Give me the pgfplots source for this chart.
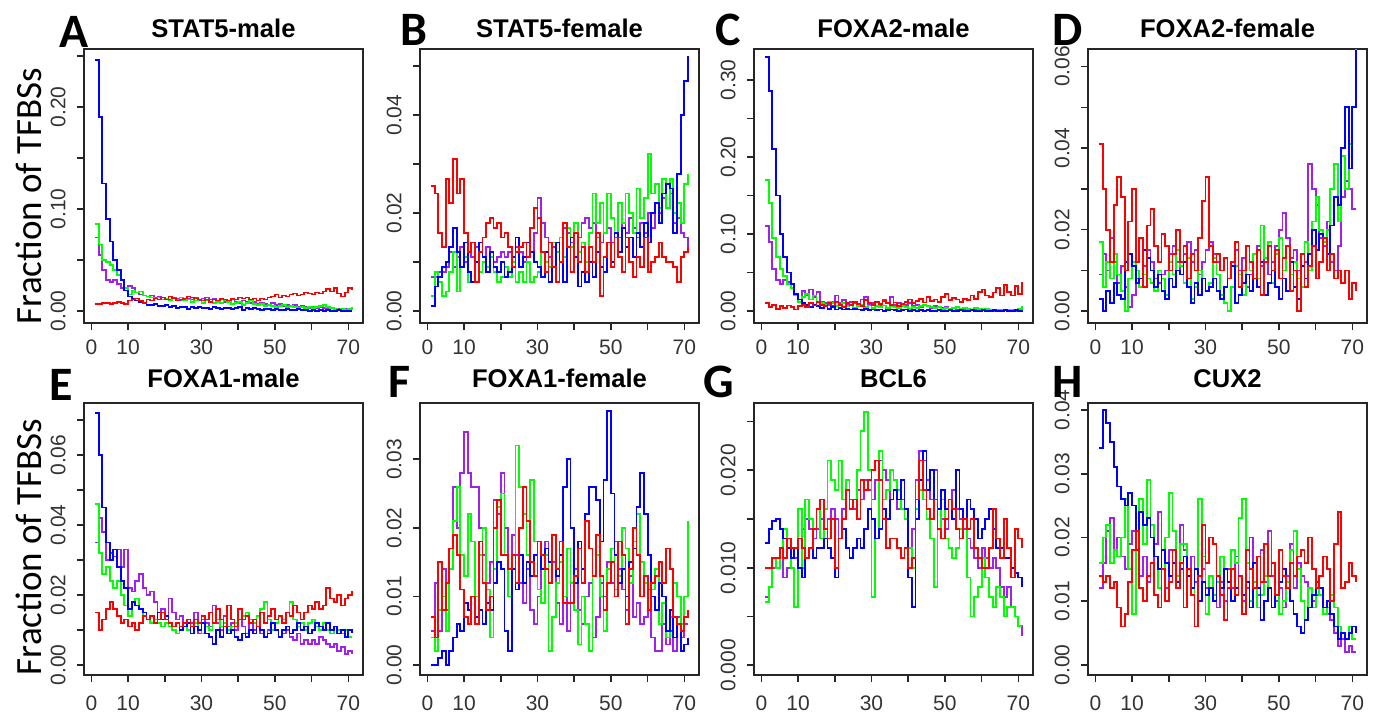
\documentclass[border=0pt]{standalone}
\usepackage{pgfplots}
\pgfplotsset{compat=1.18}
\usepackage{pgfplotstable}
\usepackage{fontspec}
\setmainfont{Liberation Sans}
\newfontfamily\calibri{Carlito}
\definecolor{rred}{RGB}{255,0,0}
\definecolor{rgreen}{RGB}{0,255,0}
\definecolor{rblue}{RGB}{0,0,255}
\definecolor{rpurple}{RGB}{160,32,240}

\pgfplotstableread{
x r g b p
1 0.007 0.085 0.246 0.072
2 0.007 0.065 0.190 0.055
3 0.008 0.050 0.125 0.040
4 0.008 0.048 0.090 0.030
5 0.007 0.045 0.068 0.028
6 0.008 0.040 0.050 0.030
7 0.009 0.035 0.040 0.026
8 0.008 0.030 0.030 0.022
9 0.007 0.022 0.020 0.020
10 0.010 0.016 0.014 0.024
11 0.011 0.020 0.012 0.022
12 0.012 0.018 0.010 0.018
13 0.010 0.019 0.009 0.016
14 0.008 0.015 0.008 0.015
15 0.011 0.014 0.006 0.014
16 0.010 0.013 0.006 0.015
17 0.012 0.012 0.007 0.013
18 0.011 0.013 0.005 0.014
19 0.013 0.011 0.005 0.013
20 0.011 0.012 0.006 0.012
21 0.014 0.010 0.004 0.011
22 0.012 0.012 0.005 0.013
23 0.010 0.011 0.003 0.012
24 0.011 0.013 0.004 0.010
25 0.012 0.010 0.004 0.011
26 0.014 0.011 0.002 0.012
27 0.013 0.009 0.004 0.011
28 0.012 0.010 0.003 0.013
29 0.011 0.011 0.004 0.010
30 0.010 0.008 0.003 0.012
31 0.011 0.010 0.003 0.013
32 0.009 0.009 0.002 0.011
33 0.011 0.008 0.004 0.012
34 0.010 0.009 0.003 0.010
35 0.012 0.008 0.002 0.011
36 0.011 0.010 0.003 0.009
37 0.010 0.009 0.003 0.010
38 0.012 0.007 0.002 0.011
39 0.011 0.008 0.003 0.009
40 0.013 0.009 0.004 0.008
41 0.012 0.006 0.001 0.010
42 0.013 0.008 0.003 0.009
43 0.011 0.010 0.002 0.008
44 0.012 0.007 0.003 0.009
45 0.010 0.006 0.002 0.007
46 0.012 0.007 0.001 0.008
47 0.011 0.005 0.002 0.007
48 0.013 0.006 0.002 0.006
49 0.014 0.005 0.001 0.008
50 0.016 0.004 0.002 0.006
51 0.013 0.005 0.001 0.007
52 0.015 0.006 0.001 0.005
53 0.014 0.004 0.002 0.006
54 0.016 0.005 0.001 0.005
55 0.017 0.004 0.001 0.006
56 0.015 0.003 0.002 0.004
57 0.016 0.004 0.001 0.005
58 0.018 0.003 0.001 0.004
59 0.017 0.004 0.000 0.003
60 0.016 0.003 0.001 0.004
61 0.018 0.004 0.000 0.003
62 0.017 0.005 0.001 0.004
63 0.019 0.006 0.000 0.003
64 0.021 0.004 0.001 0.002
65 0.019 0.003 0.000 0.003
66 0.022 0.002 0.000 0.002
67 0.017 0.001 0.001 0.002
68 0.014 0.002 0.000 0.001
69 0.018 0.001 0.000 0.002
70 0.022 0.002 0.000 0.001
71 0.020 0.004 0.000 0.001
}\tA

\pgfplotstableread{
x r g b p
1 0.0255 0.003 0.001 0.007
2 0.024 0.008 0.005 0.007
3 0.016 0.006 0.007 0.008
4 0.013 0.003 0.009 0.008
5 0.027 0.004 0.010 0.009
6 0.022 0.008 0.013 0.012
7 0.031 0.012 0.017 0.009
8 0.024 0.004 0.012 0.011
9 0.027 0.009 0.009 0.013
10 0.016 0.011 0.014 0.010
11 0.012 0.006 0.008 0.012
12 0.014 0.006 0.006 0.011
13 0.006 0.006 0.010 0.013
14 0.012 0.008 0.014 0.012
15 0.015 0.010 0.011 0.011
16 0.018 0.009 0.008 0.013
17 0.019 0.011 0.012 0.012
18 0.017 0.008 0.009 0.010
19 0.018 0.006 0.008 0.011
20 0.015 0.007 0.010 0.012
21 0.016 0.009 0.007 0.011
22 0.013 0.007 0.008 0.012
23 0.009 0.010 0.011 0.011
24 0.012 0.006 0.015 0.013
25 0.013 0.008 0.009 0.012
26 0.014 0.006 0.011 0.010
27 0.011 0.010 0.014 0.014
28 0.017 0.006 0.012 0.012
29 0.021 0.007 0.010 0.016
30 0.019 0.008 0.009 0.023
31 0.012 0.012 0.007 0.018
32 0.008 0.010 0.012 0.015
33 0.014 0.009 0.006 0.011
34 0.009 0.014 0.009 0.013
35 0.006 0.012 0.014 0.012
36 0.010 0.015 0.010 0.015
37 0.018 0.011 0.006 0.017
38 0.013 0.017 0.013 0.016
39 0.008 0.013 0.015 0.014
40 0.016 0.018 0.011 0.016
41 0.010 0.012 0.005 0.015
42 0.013 0.014 0.008 0.018
43 0.008 0.010 0.006 0.019
44 0.013 0.016 0.010 0.017
45 0.010 0.024 0.007 0.018
46 0.016 0.018 0.012 0.015
47 0.003 0.022 0.009 0.014
48 0.011 0.016 0.008 0.016
49 0.014 0.024 0.014 0.017
50 0.009 0.019 0.010 0.014
51 0.015 0.015 0.016 0.016
52 0.011 0.022 0.012 0.015
53 0.008 0.018 0.017 0.018
54 0.015 0.024 0.013 0.016
55 0.010 0.020 0.015 0.019
56 0.007 0.016 0.011 0.017
57 0.011 0.025 0.016 0.015
58 0.009 0.019 0.013 0.018
59 0.015 0.023 0.018 0.016
60 0.008 0.032 0.014 0.020
61 0.010 0.024 0.020 0.017
62 0.011 0.026 0.022 0.022
63 0.014 0.021 0.018 0.020
64 0.011 0.027 0.024 0.023
65 0.010 0.021 0.026 0.021
66 0.010 0.027 0.025 0.024
67 0.009 0.020 0.016 0.018
68 0.006 0.022 0.028 0.019
69 0.011 0.018 0.040 0.016
70 0.012 0.026 0.047 0.015
71 0.013 0.028 0.052 0.013
}\tB

\pgfplotstableread{
x r g b p
1 0.010 0.170 0.330 0.110
2 0.005 0.140 0.285 0.090
3 0.008 0.095 0.210 0.055
4 0.003 0.070 0.150 0.040
5 0.006 0.055 0.100 0.035
6 0.004 0.045 0.070 0.040
7 0.007 0.035 0.050 0.038
8 0.005 0.030 0.035 0.030
9 0.002 0.020 0.022 0.020
10 0.006 0.012 0.015 0.015
11 0.008 0.018 0.010 0.026
12 0.005 0.022 0.008 0.020
13 0.010 0.015 0.005 0.028
14 0.007 0.020 0.008 0.018
15 0.012 0.012 0.006 0.025
16 0.008 0.010 0.004 0.012
17 0.006 0.008 0.006 0.010
18 0.010 0.012 0.003 0.008
19 0.007 0.010 0.005 0.012
20 0.012 0.006 0.002 0.020
21 0.008 0.008 0.004 0.010
22 0.005 0.010 0.002 0.014
23 0.010 0.006 0.003 0.008
24 0.008 0.008 0.002 0.012
25 0.012 0.004 0.003 0.010
26 0.009 0.006 0.002 0.008
27 0.006 0.008 0.001 0.015
28 0.014 0.005 0.003 0.018
29 0.010 0.007 0.001 0.008
30 0.008 0.004 0.002 0.010
31 0.012 0.006 0.001 0.012
32 0.009 0.005 0.002 0.008
33 0.013 0.007 0.000 0.014
34 0.010 0.004 0.001 0.010
35 0.008 0.006 0.002 0.018
36 0.011 0.005 0.001 0.008
37 0.006 0.004 0.000 0.010
38 0.009 0.006 0.001 0.006
39 0.012 0.005 0.002 0.008
40 0.015 0.003 0.000 0.010
41 0.010 0.005 0.001 0.006
42 0.013 0.004 0.000 0.008
43 0.016 0.006 0.001 0.005
44 0.011 0.008 0.000 0.007
45 0.018 0.006 0.001 0.006
46 0.013 0.005 0.000 0.004
47 0.015 0.004 0.000 0.006
48 0.012 0.005 0.001 0.005
49 0.018 0.003 0.000 0.004
50 0.022 0.004 0.000 0.005
51 0.014 0.003 0.001 0.003
52 0.017 0.004 0.000 0.004
53 0.015 0.005 0.000 0.002
54 0.012 0.003 0.001 0.003
55 0.016 0.004 0.000 0.002
56 0.014 0.003 0.000 0.003
57 0.020 0.002 0.001 0.002
58 0.016 0.004 0.000 0.001
59 0.025 0.003 0.000 0.002
60 0.028 0.002 0.001 0.001
61 0.020 0.003 0.000 0.002
62 0.018 0.002 0.000 0.001
63 0.024 0.001 0.001 0.000
64 0.030 0.002 0.000 0.001
65 0.020 0.001 0.000 0.002
66 0.034 0.002 0.001 0.001
67 0.025 0.001 0.000 0.000
68 0.020 0.002 0.000 0.001
69 0.032 0.001 0.001 0.000
70 0.022 0.003 0.000 0.001
71 0.038 0.006 0.001 0.001
}\tC

\pgfplotstableread{
x r g b p
1 0.041 0.017 0.003 0.009
2 0.030 0.006 0.000 0.014
3 0.020 0.012 0.005 0.010
4 0.012 0.008 0.002 0.018
5 0.026 0.014 0.007 0.012
6 0.033 0.009 0.004 0.007
7 0.028 0.005 0.003 0.011
8 0.010 0.000 0.012 0.006
9 0.022 0.008 0.014 0.001
10 0.030 0.012 0.011 0.004
11 0.012 0.010 0.007 0.008
12 0.018 0.006 0.008 0.006
13 0.006 0.009 0.015 0.011
14 0.021 0.008 0.013 0.015
15 0.025 0.007 0.010 0.012
16 0.016 0.005 0.006 0.008
17 0.012 0.010 0.009 0.007
18 0.019 0.008 0.005 0.009
19 0.016 0.004 0.003 0.010
20 0.010 0.012 0.008 0.014
21 0.014 0.009 0.006 0.016
22 0.020 0.015 0.010 0.012
23 0.012 0.011 0.009 0.009
24 0.016 0.007 0.012 0.014
25 0.008 0.013 0.006 0.017
26 0.014 0.003 0.002 0.012
27 0.010 0.006 0.007 0.015
28 0.018 0.010 0.004 0.009
29 0.027 0.008 0.008 0.012
30 0.033 0.005 0.005 0.015
31 0.016 0.007 0.006 0.017
32 0.012 0.013 0.008 0.014
33 0.014 0.009 0.005 0.012
34 0.010 0.004 0.003 0.010
35 0.013 0.002 0.006 0.013
36 0.008 0.000 0.008 0.008
37 0.012 0.006 0.011 0.011
38 0.017 0.011 0.002 0.015
39 0.006 0.009 0.004 0.010
40 0.010 0.004 0.007 0.013
41 0.016 0.016 0.009 0.006
42 0.012 0.010 0.005 0.009
43 0.008 0.014 0.008 0.014
44 0.015 0.008 0.006 0.016
45 0.004 0.021 0.012 0.011
46 0.012 0.013 0.004 0.013
47 0.016 0.017 0.007 0.009
48 0.010 0.007 0.010 0.012
49 0.015 0.014 0.006 0.016
50 0.008 0.018 0.003 0.020
51 0.013 0.010 0.008 0.024
52 0.016 0.016 0.005 0.018
53 0.005 0.009 0.012 0.013
54 0.010 0.012 0.006 0.015
55 0.000 0.008 0.003 0.010
56 0.014 0.006 0.011 0.014
57 0.006 0.017 0.008 0.012
58 0.011 0.010 0.014 0.036
59 0.016 0.022 0.020 0.030
60 0.008 0.028 0.015 0.026
61 0.012 0.020 0.019 0.018
62 0.018 0.017 0.018 0.016
63 0.010 0.020 0.014 0.022
64 0.014 0.030 0.021 0.012
65 0.008 0.036 0.028 0.010
66 0.010 0.022 0.026 0.016
67 0.007 0.038 0.040 0.028
68 0.010 0.030 0.050 0.032
69 0.003 0.041 0.035 0.030
70 0.007 0.050 0.050 0.025
71 0.005 0.072 0.064 0.025
}\tD

\pgfplotstableread{
x r g b p
1 0.015 0.046 0.072 0.035
2 0.010 0.032 0.060 0.042
3 0.013 0.026 0.045 0.038
4 0.016 0.028 0.035 0.030
5 0.018 0.024 0.030 0.032
6 0.016 0.022 0.033 0.031
7 0.014 0.024 0.028 0.033
8 0.012 0.020 0.024 0.028
9 0.013 0.017 0.022 0.033
10 0.011 0.014 0.016 0.022
11 0.012 0.018 0.018 0.021
12 0.010 0.019 0.017 0.024
13 0.012 0.016 0.016 0.026
14 0.014 0.014 0.015 0.022
15 0.013 0.013 0.013 0.020
16 0.014 0.012 0.014 0.021
17 0.012 0.013 0.012 0.018
18 0.013 0.012 0.015 0.015
19 0.015 0.011 0.013 0.016
20 0.013 0.012 0.014 0.014
21 0.012 0.011 0.012 0.019
22 0.011 0.010 0.011 0.015
23 0.012 0.009 0.012 0.013
24 0.011 0.011 0.010 0.014
25 0.012 0.012 0.011 0.011
26 0.013 0.010 0.012 0.013
27 0.011 0.011 0.009 0.012
28 0.013 0.012 0.011 0.015
29 0.012 0.010 0.010 0.009
30 0.014 0.009 0.012 0.013
31 0.013 0.011 0.009 0.012
32 0.015 0.010 0.008 0.011
33 0.012 0.012 0.006 0.017
34 0.016 0.013 0.010 0.012
35 0.013 0.011 0.008 0.010
36 0.011 0.012 0.011 0.014
37 0.017 0.010 0.009 0.011
38 0.013 0.011 0.010 0.012
39 0.011 0.012 0.008 0.010
40 0.016 0.016 0.007 0.013
41 0.013 0.014 0.009 0.011
42 0.014 0.015 0.008 0.009
43 0.012 0.013 0.010 0.012
44 0.013 0.012 0.009 0.010
45 0.011 0.014 0.011 0.011
46 0.015 0.016 0.010 0.009
47 0.012 0.018 0.008 0.008
48 0.014 0.013 0.009 0.010
49 0.016 0.010 0.012 0.012
50 0.013 0.012 0.010 0.010
51 0.014 0.014 0.008 0.008
52 0.012 0.013 0.010 0.009
53 0.015 0.015 0.011 0.010
54 0.014 0.018 0.009 0.008
55 0.017 0.013 0.010 0.007
56 0.015 0.011 0.012 0.009
57 0.013 0.012 0.010 0.006
58 0.015 0.010 0.011 0.007
59 0.017 0.012 0.009 0.006
60 0.016 0.013 0.010 0.007
61 0.018 0.011 0.012 0.006
62 0.016 0.010 0.011 0.008
63 0.017 0.012 0.010 0.007
64 0.022 0.010 0.012 0.006
65 0.019 0.009 0.010 0.005
66 0.018 0.011 0.011 0.006
67 0.020 0.010 0.009 0.004
68 0.017 0.009 0.010 0.005
69 0.019 0.010 0.008 0.003
70 0.020 0.008 0.010 0.004
71 0.021 0.008 0.009 0.003
}\tE

\pgfplotstableread{
x r g b p
1 0.007 0.004 0.000 0.005
2 0.004 0.002 0.000 0.012
3 0.015 0.008 0.001 0.005
4 0.008 0.010 0.002 0.014
5 0.012 0.005 0.000 0.008
6 0.017 0.014 0.002 0.017
7 0.019 0.021 0.004 0.026
8 0.016 0.026 0.006 0.020
9 0.011 0.016 0.005 0.028
10 0.007 0.013 0.009 0.034
11 0.006 0.022 0.008 0.028
12 0.010 0.018 0.010 0.026
13 0.006 0.010 0.007 0.026
14 0.018 0.016 0.008 0.020
15 0.012 0.020 0.006 0.016
16 0.008 0.011 0.009 0.012
17 0.010 0.004 0.008 0.015
18 0.020 0.014 0.012 0.024
19 0.024 0.023 0.015 0.022
20 0.016 0.025 0.014 0.028
21 0.016 0.016 0.005 0.020
22 0.014 0.010 0.002 0.014
23 0.016 0.016 0.014 0.019
24 0.012 0.032 0.011 0.016
25 0.020 0.026 0.016 0.012
26 0.026 0.022 0.012 0.009
27 0.021 0.016 0.015 0.014
28 0.015 0.027 0.013 0.008
29 0.013 0.018 0.016 0.006
30 0.018 0.011 0.018 0.010
31 0.016 0.009 0.014 0.014
32 0.014 0.016 0.017 0.018
33 0.012 0.002 0.015 0.012
34 0.019 0.007 0.019 0.015
35 0.014 0.012 0.013 0.009
36 0.018 0.015 0.016 0.006
37 0.009 0.010 0.026 0.010
38 0.009 0.017 0.030 0.005
39 0.009 0.012 0.020 0.012
40 0.013 0.008 0.012 0.014
41 0.017 0.003 0.018 0.008
42 0.012 0.010 0.014 0.006
43 0.021 0.006 0.022 0.010
44 0.017 0.002 0.026 0.012
45 0.013 0.013 0.026 0.004
46 0.019 0.016 0.024 0.007
47 0.013 0.010 0.018 0.012
48 0.008 0.005 0.027 0.010
49 0.012 0.014 0.037 0.015
50 0.015 0.017 0.025 0.012
51 0.010 0.011 0.016 0.018
52 0.018 0.013 0.012 0.014
53 0.016 0.020 0.014 0.011
54 0.006 0.017 0.010 0.008
55 0.014 0.012 0.015 0.013
56 0.020 0.018 0.017 0.007
57 0.016 0.022 0.023 0.009
58 0.010 0.015 0.028 0.006
59 0.013 0.012 0.022 0.007
60 0.008 0.008 0.016 0.011
61 0.012 0.011 0.010 0.004
62 0.013 0.014 0.008 0.002
63 0.015 0.006 0.012 0.002
64 0.012 0.009 0.010 0.006
65 0.017 0.004 0.005 0.003
66 0.014 0.007 0.008 0.005
67 0.007 0.012 0.004 0.002
68 0.006 0.010 0.006 0.007
69 0.005 0.006 0.002 0.004
70 0.007 0.010 0.003 0.006
71 0.008 0.021 0.004 0.006
}\tF

\pgfplotstableread{
x r g b p
1 0.010 0.0065 0.0125 0.007
2 0.010 0.008 0.014 0.008
3 0.011 0.011 0.0148 0.010
4 0.011 0.010 0.015 0.011
5 0.012 0.012 0.014 0.012
6 0.011 0.014 0.013 0.009
7 0.013 0.012 0.012 0.010
8 0.012 0.010 0.011 0.012
9 0.012 0.006 0.012 0.011
10 0.013 0.016 0.010 0.013
11 0.012 0.010 0.009 0.014
12 0.011 0.017 0.011 0.015
13 0.012 0.015 0.012 0.014
14 0.014 0.014 0.011 0.013
15 0.016 0.016 0.012 0.014
16 0.017 0.013 0.012 0.015
17 0.014 0.016 0.013 0.014
18 0.013 0.021 0.012 0.015
19 0.015 0.019 0.011 0.016
20 0.010 0.018 0.009 0.015
21 0.013 0.021 0.013 0.013
22 0.015 0.017 0.014 0.016
23 0.018 0.019 0.012 0.018
24 0.016 0.016 0.011 0.017
25 0.017 0.017 0.012 0.016
26 0.015 0.020 0.013 0.018
27 0.019 0.024 0.012 0.017
28 0.018 0.026 0.014 0.019
29 0.019 0.020 0.016 0.018
30 0.020 0.007 0.015 0.017
31 0.021 0.013 0.013 0.019
32 0.019 0.022 0.014 0.021
33 0.015 0.017 0.016 0.020
34 0.012 0.018 0.015 0.019
35 0.013 0.020 0.017 0.017
36 0.013 0.019 0.018 0.018
37 0.012 0.018 0.017 0.016
38 0.011 0.016 0.019 0.017
39 0.012 0.015 0.016 0.015
40 0.010 0.012 0.009 0.010
41 0.011 0.010 0.006 0.014
42 0.017 0.016 0.015 0.019
43 0.021 0.018 0.019 0.022
44 0.018 0.017 0.022 0.021
45 0.016 0.015 0.018 0.019
46 0.015 0.013 0.020 0.017
47 0.017 0.008 0.017 0.020
48 0.014 0.014 0.016 0.016
49 0.013 0.017 0.018 0.015
50 0.015 0.013 0.016 0.014
51 0.017 0.012 0.017 0.017
52 0.016 0.011 0.015 0.018
53 0.014 0.012 0.020 0.016
54 0.013 0.014 0.016 0.015
55 0.015 0.015 0.015 0.014
56 0.014 0.009 0.017 0.013
57 0.015 0.005 0.016 0.012
58 0.012 0.007 0.015 0.011
59 0.011 0.008 0.013 0.010
60 0.010 0.011 0.014 0.012
61 0.010 0.009 0.015 0.011
62 0.012 0.007 0.016 0.010
63 0.016 0.006 0.014 0.011
64 0.013 0.008 0.012 0.010
65 0.011 0.007 0.012 0.008
66 0.015 0.005 0.011 0.007
67 0.012 0.006 0.011 0.008
68 0.009 0.006 0.010 0.006
69 0.014 0.005 0.0095 0.005
70 0.013 0.004 0.009 0.004
71 0.012 0.004 0.008 0.003
}\tG

\pgfplotstableread{
x r g b p
1 0.014 0.016 0.034 0.012
2 0.013 0.020 0.040 0.016
3 0.014 0.022 0.038 0.021
4 0.012 0.016 0.035 0.023
5 0.013 0.018 0.031 0.018
6 0.009 0.017 0.028 0.020
7 0.006 0.020 0.026 0.017
8 0.008 0.026 0.025 0.015
9 0.013 0.015 0.027 0.019
10 0.018 0.008 0.025 0.021
11 0.021 0.018 0.018 0.018
12 0.012 0.026 0.024 0.014
13 0.010 0.019 0.022 0.017
14 0.014 0.029 0.023 0.013
15 0.016 0.022 0.020 0.016
16 0.011 0.017 0.017 0.019
17 0.009 0.012 0.015 0.024
18 0.015 0.015 0.018 0.015
19 0.010 0.020 0.016 0.012
20 0.013 0.027 0.014 0.018
21 0.018 0.021 0.016 0.016
22 0.012 0.014 0.013 0.013
23 0.016 0.019 0.015 0.022
24 0.009 0.019 0.017 0.018
25 0.015 0.014 0.014 0.014
26 0.011 0.011 0.012 0.017
27 0.006 0.015 0.015 0.013
28 0.014 0.026 0.010 0.010
29 0.022 0.017 0.013 0.015
30 0.016 0.008 0.011 0.012
31 0.020 0.014 0.012 0.014
32 0.019 0.011 0.010 0.011
33 0.014 0.013 0.014 0.009
34 0.011 0.017 0.012 0.013
35 0.007 0.015 0.015 0.010
36 0.012 0.012 0.013 0.015
37 0.015 0.018 0.010 0.012
38 0.011 0.016 0.012 0.017
39 0.014 0.023 0.014 0.014
40 0.008 0.026 0.011 0.010
41 0.018 0.016 0.013 0.012
42 0.015 0.010 0.009 0.020
43 0.012 0.013 0.016 0.016
44 0.017 0.009 0.012 0.011
45 0.013 0.011 0.007 0.018
46 0.019 0.014 0.010 0.013
47 0.014 0.012 0.012 0.021
48 0.016 0.009 0.009 0.014
49 0.011 0.011 0.011 0.010
50 0.018 0.008 0.013 0.012
51 0.014 0.010 0.015 0.009
52 0.012 0.013 0.012 0.014
53 0.016 0.018 0.010 0.019
54 0.014 0.021 0.008 0.012
55 0.017 0.015 0.006 0.016
56 0.018 0.010 0.005 0.014
57 0.016 0.007 0.007 0.013
58 0.020 0.012 0.009 0.012
59 0.015 0.009 0.011 0.010
60 0.012 0.013 0.013 0.011
61 0.014 0.011 0.012 0.012
62 0.017 0.008 0.009 0.009
63 0.015 0.009 0.010 0.008
64 0.010 0.011 0.008 0.007
65 0.019 0.009 0.006 0.005
66 0.024 0.006 0.004 0.003
67 0.012 0.005 0.005 0.004
68 0.013 0.004 0.004 0.002
69 0.016 0.006 0.005 0.003
70 0.014 0.004 0.006 0.002
71 0.013 0.004 0.005 0.002
}\tH

\pgfplotsset{
  panel/.style={
    scale only axis, width=139.5pt, height=137pt, anchor=north west,
    xmin=-2, xmax=74,
    xtick={0,10,20,30,40,50,60,70},
    xticklabels={0,10,,30,,50,,70},
    scaled y ticks=false, scaled x ticks=false,
    axis line style={line width=0.9pt, black!85},
    tick align=outside, xtick pos=bottom, ytick pos=left,
    major tick length=3.5pt,
    every tick/.style={line width=0.8pt, black!85},
    /pgf/number format/assume math mode=true,
    tick label style={font=\fontsize{10.5}{12}\selectfont, text=black!80},
    xticklabel style={inner sep=0pt, anchor=north},
    yticklabel style={rotate=90, inner sep=0pt, anchor=south},
    xticklabel shift=4.5pt, yticklabel shift=5.5pt,
    title style={font=\bfseries\fontsize{12.8}{14}\selectfont, anchor=base, inner sep=0pt},
    every axis plot/.style={line width=0.9pt, const plot},
  },
  bottomrow/.style={height=136pt, title style={yshift=2pt}, xticklabel shift=6.5pt},
}

\newcommand{\fourlines}[1]{%
  \addplot[rpurple] table[x=x,y=p]{#1};
  \addplot[rgreen] table[x=x,y=g]{#1};
  \addplot[rblue] table[x=x,y=b]{#1};
  \addplot[rred] table[x=x,y=r]{#1};
}

\begin{document}
\begin{tikzpicture}
\useasboundingbox (0,0) rectangle (686.5pt,-356.5pt);

\begin{axis}[panel, at={(42pt,-24.5pt)}, title={STAT5-male},
  ymin=-0.012, ymax=0.257, ytick={0,0.05,0.1,0.15,0.2,0.25}, yticklabels={0.00,,0.10,,0.20,}]
\fourlines{\tA}
\end{axis}

\begin{axis}[panel, at={(210pt,-24.5pt)}, title={STAT5-female},
  ymin=-0.00245, ymax=0.0535, ytick={0,0.01,0.02,0.03,0.04,0.05}, yticklabels={0.00,,0.02,,0.04,}]
\fourlines{\tB}
\end{axis}

\begin{axis}[panel, at={(377pt,-24.5pt)}, title={FOXA2-male},
  ymin=-0.0156, ymax=0.340, ytick={0,0.05,0.1,0.15,0.2,0.25,0.3}, yticklabels={0.00,,0.10,,0.20,,0.30}]
\fourlines{\tC}
\end{axis}

\begin{axis}[panel, at={(544pt,-24.5pt)}, title={FOXA2-female},
  ymin=-0.0029, ymax=0.0643, ytick={0,0.01,0.02,0.03,0.04,0.05,0.06}, yticklabels={0.00,,0.02,,0.04,,0.06}]
\fourlines{\tD}
\end{axis}

\begin{axis}[panel, bottomrow, at={(42pt,-201.5pt)}, title={FOXA1-male},
  ymin=-0.0029, ymax=0.0749, ytick={0,0.01,0.02,0.03,0.04,0.05,0.06,0.07}, yticklabels={0.00,,0.02,,0.04,,0.06,}]
\fourlines{\tE}
\end{axis}

\begin{axis}[panel, bottomrow, at={(210pt,-201.5pt)}, title={FOXA1-female},
  ymin=-0.00146, ymax=0.0382, ytick={0,0.01,0.02,0.03}, yticklabels={0.00,0.01,0.02,0.03}]
\fourlines{\tF}
\end{axis}

\begin{axis}[panel, bottomrow, at={(377pt,-201.5pt)}, title={BCL6},
  ymin=-0.001, ymax=0.0269, ytick={0,0.005,0.01,0.015,0.02,0.025}, yticklabels={0.000,,0.010,,0.020,}]
\fourlines{\tG}
\end{axis}

\begin{axis}[panel, bottomrow, at={(544pt,-201.5pt)}, title={CUX2},
  ymin=-0.0016, ymax=0.0411, ytick={0,0.01,0.02,0.03,0.04}, yticklabels={0.00,0.01,0.02,0.03,0.04}]
\fourlines{\tH}
\end{axis}

\begin{scope}[every node/.style={anchor=base west, inner sep=0pt, font=\calibri\bfseries\fontsize{24}{26}\selectfont}]
\node at (29.5pt,-23.5pt) {A};
\node at (200pt,-22.5pt) {B};
\node at (357.5pt,-22.5pt) {C};
\node at (526pt,-22.5pt) {D};
\node at (24.5pt,-200pt) {E};
\node at (194pt,-198.5pt) {F};
\node at (351.5pt,-198.5pt) {G};
\node at (526pt,-198.5pt) {H};
\end{scope}

\node[rotate=90, inner sep=0pt, font=\calibri\fontsize{18.5}{20}\selectfont] at (14.5pt,-98pt) {Fraction of TFBSs};
\node[rotate=90, inner sep=0pt, font=\calibri\fontsize{18.5}{20}\selectfont] at (14.5pt,-273.5pt) {Fraction of TFBSs};
\end{tikzpicture}
\end{document}
